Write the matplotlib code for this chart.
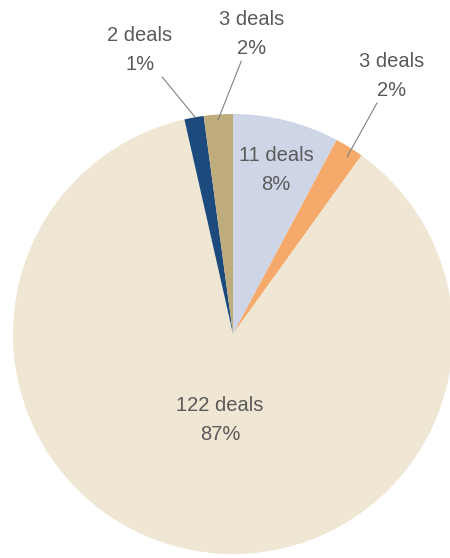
import matplotlib.pyplot as plt

deals = [11, 3, 122, 2, 3]
percents = [8, 2, 87, 1, 2]
colors = ["#cdd5e6", "#f5aa6c", "#efe6d4", "#1c4a7c", "#bfac7c"]

plt.rcParams["font.family"] = ["Liberation Sans", "DejaVu Sans"]

fig = plt.figure(figsize=(4.5, 5.58), dpi=100)
ax = fig.add_axes([0, 0, 1, 1])

# pie in pixel-like coordinates (y measured from bottom)
wedges, _ = ax.pie(deals, colors=colors, startangle=90, counterclock=False,
                   center=(233, 224), radius=220,
                   wedgeprops=dict(linewidth=0))

labels = ["%d deals\n%d%%" % (d, p) for d, p in zip(deals, percents)]
txt = dict(fontsize=14.5, color="#5a5a5a", ha="center", va="center", linespacing=1.7)

# inside labels
ax.text(276, 558 - 170, labels[0], **txt)
ax.text(220, 558 - 420, labels[2], **txt)

# outside labels with leader lines
line = dict(arrowstyle="-", color="#808080", lw=0.8, shrinkA=0, shrinkB=0)
ax.annotate(labels[1], xy=(347, 558 - 157), xytext=(392, 558 - 76),
            arrowprops=line, **txt)
ax.annotate(labels[3], xy=(195, 558 - 117), xytext=(140, 558 - 50),
            arrowprops=line, **txt)
ax.annotate(labels[4], xy=(218, 558 - 120), xytext=(252, 558 - 34),
            arrowprops=line, **txt)

ax.set_xlim(0, 450)
ax.set_ylim(0, 558)
ax.set_aspect("equal")
ax.axis("off")

fig.savefig("out.png", dpi=100)
